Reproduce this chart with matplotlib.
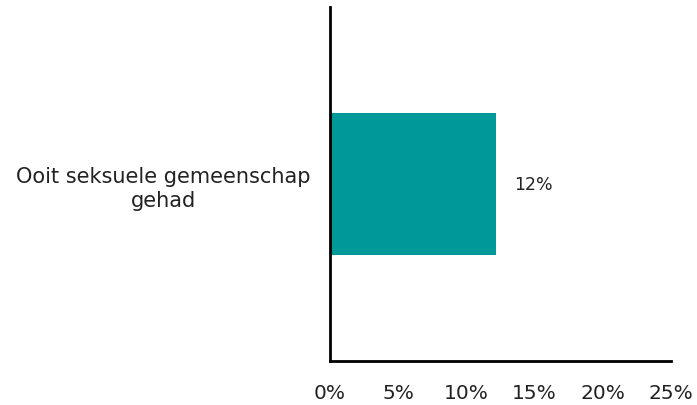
import matplotlib.pyplot as plt

# data
categories = ['Ooit seksuele gemeenschap\ngehad']
values = [12.2]
xticks = [0, 5, 10, 15, 20, 25]

plt.rcParams['font.family'] = ['DejaVu Sans']

fig = plt.figure(figsize=(6.97, 4.06), dpi=100)
ax = fig.add_axes([0.4735, 0.108, 0.489, 0.872])

ax.barh(range(len(categories)), values, height=0.4, color='#009999')
for i, v in enumerate(values):
    ax.text(v + 1.3, i, '%d%%' % round(v), va='center', ha='left', fontsize=12.5, color='#222222')

ax.set_xlim(0, 25)
ax.set_ylim(-0.5, 0.5)
ax.set_xticks(xticks)
ax.set_xticklabels(['%d%%' % t for t in xticks])
ax.set_yticks(range(len(categories)))
ax.set_yticklabels(categories, ha='center', fontsize=15, color='#222222', linespacing=1.25)
ax.tick_params(axis='y', length=0, pad=120)
ax.tick_params(axis='x', length=0, pad=16, labelsize=14.5, labelcolor='#222222')

for s in ['top', 'right']:
    ax.spines[s].set_visible(False)
ax.spines['left'].set_linewidth(2)
ax.spines['bottom'].set_linewidth(2)

plt.savefig('out.png', dpi=100)
